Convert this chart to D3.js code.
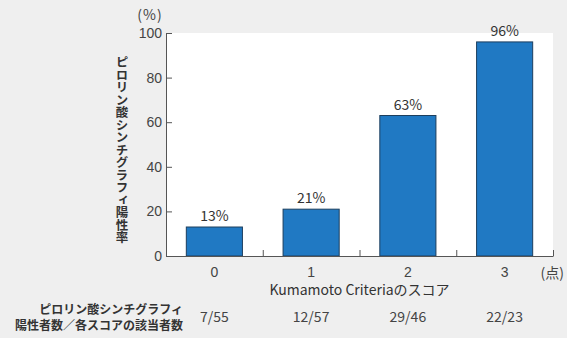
<!DOCTYPE html>
<head>
<meta charset="utf-8">
<title>Kumamoto Criteria</title>
<style>
   body { margin: 0; background: #efefef; }
   svg { display: block; font-family: "Noto Sans CJK JP", "Noto Sans", sans-serif; }
   .tick text { fill: #444; font-size: 14px; }
   .axis path, .axis line { stroke: #555; }
</style>
</head>
<body>
<div id="chartDiv"></div>
<script src="https://d3js.org/d3.v7.min.js"></script>
<script>

   var scores = ["0", "1", "2", "3"];
   var rates = [13, 21, 63, 96];
   var counts = ["7/55", "12/57", "29/46", "22/23"];
   var yTicks = [0, 20, 40, 60, 80, 100];

   var width = 567, height = 338;
   var plotL = 166, plotR = 553, plotT = 33, plotB = 256;

   var svg = d3.select("#chartDiv").append("svg")
       .attr("width", width)
       .attr("height", height);

   var x = d3.scaleBand().domain(scores).range([plotL, plotR]).padding(0);
   var xEdge = d3.scaleLinear().domain([0, scores.length]).range([plotL, plotR]);
   var y = d3.scaleLinear().domain([0, 100]).range([plotB, plotT]);
   var barW = x.bandwidth() * 0.58;

   //	plot background

   svg.append("rect")
       .attr("x", plotL).attr("y", plotT)
       .attr("width", plotR - plotL).attr("height", plotB - plotT)
       .attr("fill", "#fff");

   //	bars

   svg.selectAll("rect.bar")
       .data(rates)
       .enter().append("rect")
       .attr("class", "bar")
       .attr("x", function(d, i) { return x(scores[i]) + (x.bandwidth() - barW) / 2; })
       .attr("y", function(d) { return y(d); })
       .attr("width", barW)
       .attr("height", function(d) { return y(0) - y(d); })
       .attr("fill", "#2079c3")
       .attr("stroke", "#1d3f5e")
       .attr("stroke-width", 1);

   svg.selectAll("text.val")
       .data(rates)
       .enter().append("text")
       .attr("class", "val")
       .attr("x", function(d, i) { return x(scores[i]) + x.bandwidth() / 2; })
       .attr("y", function(d) { return y(d) - 6; })
       .attr("text-anchor", "middle")
       .attr("fill", "#333")
       .style("font-size", "14px")
       .text(function(d) { return d + "%"; });

   //	axes

   svg.append("g")
       .attr("class", "axis")
       .attr("transform", "translate(" + plotL + ",0)")
       .call(d3.axisLeft(y).tickValues(yTicks).tickSize(-6).tickPadding(4));

   svg.append("g")
       .attr("class", "axis")
       .attr("transform", "translate(0," + plotB + ")")
       .call(d3.axisBottom(xEdge).tickValues([1, 2, 3, 4]).tickSize(-6).tickSizeOuter(0).tickFormat(""));

   svg.append("g")
       .attr("class", "axis")
       .attr("transform", "translate(0," + plotB + ")")
       .call(d3.axisBottom(x).tickSize(0).tickPadding(11))
       .call(function(g) { g.select(".domain").remove(); });

   //	labels

   svg.append("text")
       .attr("x", 564).attr("y", 278)
       .attr("text-anchor", "end")
       .attr("fill", "#444")
       .style("font-size", "14px")
       .text("(点)");

   svg.append("text")
       .attr("x", 150).attr("y", 20)
       .attr("text-anchor", "middle")
       .attr("fill", "#444")
       .style("font-size", "14px")
       .style("letter-spacing", "1px")
       .text("(%)");

   svg.append("text")
       .attr("x", (plotL + plotR) / 2).attr("y", 295)
       .attr("text-anchor", "middle")
       .attr("fill", "#333")
       .style("font-size", "14px")
       .text("Kumamoto Criteriaのスコア");

   svg.append("text")
       .attr("x", 122).attr("y", 150)
       .attr("text-anchor", "middle")
       .attr("fill", "#333")
       .style("font-size", "12.5px")
       .style("font-weight", "bold")
       .style("writing-mode", "vertical-rl")
       .style("text-orientation", "upright")
       .text("ピロリン酸シンチグラフィ陽性率");

   svg.append("text")
       .attr("x", 183).attr("y", 314)
       .attr("text-anchor", "end")
       .attr("fill", "#333")
       .style("font-size", "12px")
       .style("font-weight", "bold")
       .text("ピロリン酸シンチグラフィ");

   svg.append("text")
       .attr("x", 183).attr("y", 330)
       .attr("text-anchor", "end")
       .attr("fill", "#333")
       .style("font-size", "12px")
       .style("font-weight", "bold")
       .text("陽性者数／各スコアの該当者数");

   svg.selectAll("text.cnt")
       .data(counts)
       .enter().append("text")
       .attr("class", "cnt")
       .attr("x", function(d, i) { return x(scores[i]) + x.bandwidth() / 2; })
       .attr("y", 322)
       .attr("text-anchor", "middle")
       .attr("fill", "#444")
       .style("font-size", "14px")
       .text(function(d) { return d; });

</script>
</body>
